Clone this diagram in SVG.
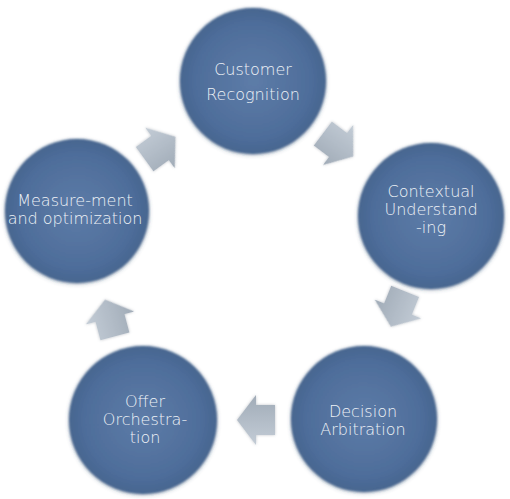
<svg xmlns="http://www.w3.org/2000/svg" width="510" height="499" viewBox="0 0 510 499">
  <defs>
    <radialGradient id="cg" cx="50%" cy="50%" r="50%">
      <stop offset="0%" stop-color="#5d7ca8"/>
      <stop offset="80%" stop-color="#4e6d9a"/>
      <stop offset="100%" stop-color="#46658f"/>
    </radialGradient>
    <linearGradient id="ag" x1="0" y1="0" x2="0" y2="1">
      <stop offset="0%" stop-color="#c3ccd6"/>
      <stop offset="50%" stop-color="#b2bcc7"/>
      <stop offset="100%" stop-color="#a0abb7"/>
    </linearGradient>
    <filter id="soft" x="-20%" y="-20%" width="140%" height="140%">
      <feGaussianBlur in="SourceAlpha" stdDeviation="2.2" result="b"/>
      <feOffset dx="0" dy="1" in="b" result="o"/>
      <feFlood flood-color="#3a4e68" flood-opacity="0.45"/>
      <feComposite in2="o" operator="in" result="s"/>
      <feGaussianBlur in="SourceGraphic" stdDeviation="0.8" result="g"/>
      <feMerge><feMergeNode in="s"/><feMergeNode in="g"/></feMerge>
    </filter>
    <filter id="ashadow" x="-30%" y="-30%" width="160%" height="160%">
      <feGaussianBlur in="SourceAlpha" stdDeviation="1.5" result="b"/>
      <feFlood flood-color="#6f7a86" flood-opacity="0.45"/>
      <feComposite in2="b" operator="in" result="s"/>
      <feGaussianBlur in="SourceGraphic" stdDeviation="0.6" result="g"/>
      <feMerge><feMergeNode in="s"/><feMergeNode in="g"/></feMerge>
    </filter>
    <path id="arrow" d="M19,0 L0,-25 L0,-15 L-19,-15 L-19,15 L0,15 L0,25 Z"/>
  </defs>
  <style>
    .node circle { fill: url(#cg); filter: url(#soft); }
    .node text { font-family: "DejaVu Sans", "Liberation Sans", sans-serif; font-weight: 200; font-size: 16px; fill: #eef2f7; text-anchor: middle; }
    .conn use { fill: url(#ag); filter: url(#ashadow); }
  </style>
  <rect width="510" height="499" fill="#ffffff"/>

  <g id="connectors" class="conn">
    <use href="#arrow" transform="translate(338,145) rotate(37)"/>
    <use href="#arrow" transform="translate(398,309) rotate(112)"/>
    <use href="#arrow" transform="translate(256,420) rotate(180)"/>
    <use href="#arrow" transform="translate(110,318) rotate(-105)"/>
    <use href="#arrow" transform="translate(160,148) rotate(-36)"/>
  </g>

  <g id="customer-recognition" class="node">
    <circle cx="253" cy="81" r="73"/>
    <text x="253" y="75">Customer</text>
    <text x="253" y="100">Recognition</text>
  </g>
  <g id="contextual-understanding" class="node">
    <circle cx="431" cy="216" r="73"/>
    <text x="431" y="197">Contextual</text>
    <text x="431" y="215">Understand</text>
    <text x="431" y="233">-ing</text>
  </g>
  <g id="decision-arbitration" class="node">
    <circle cx="364" cy="419" r="73"/>
    <text x="363" y="417">Decision</text>
    <text x="363" y="435">Arbitration</text>
  </g>
  <g id="offer-orchestration" class="node">
    <circle cx="143" cy="420" r="74"/>
    <text x="145" y="407">Offer</text>
    <text x="145" y="425">Orchestra-</text>
    <text x="145" y="443">tion</text>
  </g>
  <g id="measurement-optimization" class="node">
    <circle cx="77" cy="211" r="72"/>
    <text x="75" y="206">Measure-ment</text>
    <text x="75" y="224">and optimization</text>
  </g>
</svg>
